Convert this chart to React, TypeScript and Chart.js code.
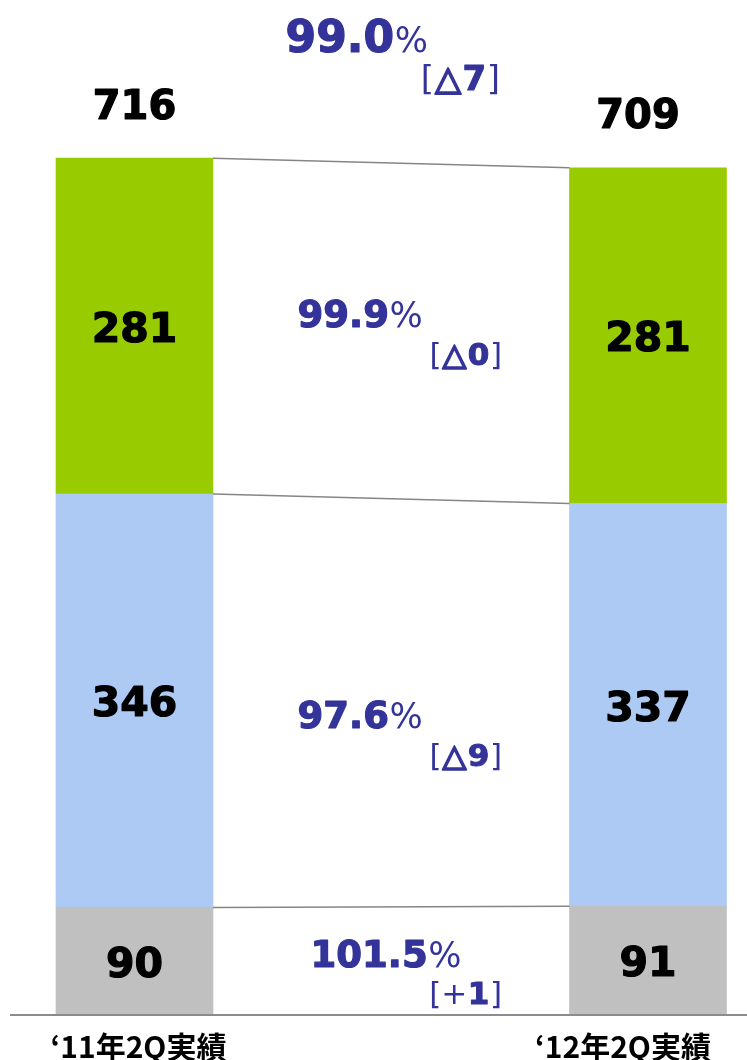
import { useEffect, useRef } from 'react';
import { Chart, registerables } from 'chart.js';

Chart.register(...registerables);

// ---- data ----
const categories = ['‘11年2Q実績', '‘12年2Q実績'];
const seriesGray = [90, 91];
const seriesBlue = [346, 337];
const seriesGreen = [281, 281];
const totals = [716, 709];
// annotations, bottom segment first, last one is the total
const ratioValues = ['101.5', '97.6', '99.9', '99.0'];
const diffSigns = ['+', '△', '△', '△'];
const diffValues = ['1', '9', '0', '7'];

// ---- layout / style ----
const COLORS = ['#C0C0C0', '#ADCAF4', '#99CC00'];
const PCT_COLOR = '#333399';
const FONT = '"DejaVu Sans", sans-serif';
const CJK = '"Noto Sans CJK JP", sans-serif';
const pctLeft = [310, 297, 297, 285];
const pctBase = [967, 728, 327, 52];
const pctSize = [37, 37, 37, 44];
const pctSignSize = [35, 35, 35, 35];
const brRight = [502, 502, 502, 500];
const brBase = [1004, 766, 365, 90];
const brSize = [31, 31, 31, 34];
const totalDx = [0, -10];
const catDx = [4, -25];

type Run = { text: string; font: string; stroke?: number };
function drawRuns(ctx: CanvasRenderingContext2D, runs: Run[], x: number, y: number, align: 'left' | 'right') {
  const widths = runs.map((r) => {
    ctx.font = r.font;
    return ctx.measureText(r.text).width + (r.stroke || 0);
  });
  const total = widths.reduce((a, b) => a + b, 0);
  let cx = align === 'left' ? x : x - total;
  ctx.textAlign = 'left';
  ctx.textBaseline = 'alphabetic';
  runs.forEach((r, i) => {
    ctx.font = r.font;
    const sx = cx + (r.stroke || 0) / 2;
    ctx.fillText(r.text, sx, y);
    if (r.stroke) {
      ctx.lineWidth = r.stroke;
      ctx.lineJoin = 'round';
      ctx.strokeText(r.text, sx, y);
    }
    cx += widths[i];
  });
}

function boldText(ctx: CanvasRenderingContext2D, t: string, x: number, y: number, w: number) {
  ctx.fillText(t, x, y);
  ctx.lineWidth = w;
  ctx.lineJoin = 'round';
  ctx.strokeText(t, x, y);
}

const decoPlugin = {
  id: 'deco',
  afterDatasetsDraw(chart: any) {
    const ctx: CanvasRenderingContext2D = chart.ctx;
    const area = chart.chartArea;
    ctx.save();
    // connector lines
    ctx.strokeStyle = '#858585';
    ctx.lineWidth = 1.5;
    chart.data.datasets.forEach((_: any, d: number) => {
      const meta = chart.getDatasetMeta(d);
      const a = meta.data[0].getProps(['x', 'y', 'width'], true);
      const b = meta.data[1].getProps(['x', 'y', 'width'], true);
      ctx.beginPath();
      ctx.moveTo(a.x + a.width / 2, a.y);
      ctx.lineTo(b.x - b.width / 2, b.y);
      ctx.stroke();
    });
    // axis line
    ctx.strokeStyle = '#8C8C8C';
    ctx.lineWidth = 2;
    ctx.beginPath();
    ctx.moveTo(area.left, area.bottom);
    ctx.lineTo(area.right, area.bottom);
    ctx.stroke();
    // values inside bars
    ctx.fillStyle = '#000';
    ctx.strokeStyle = '#000';
    ctx.textAlign = 'center';
    ctx.textBaseline = 'middle';
    ctx.font = `bold 41px ${FONT}`;
    chart.data.datasets.forEach((ds: any, d: number) => {
      const meta = chart.getDatasetMeta(d);
      meta.data.forEach((el: any, i: number) => {
        const p = el.getProps(['x', 'y', 'base'], true);
        boldText(ctx, String(ds.data[i].y), p.x, (p.y + p.base) / 2 + 5, 1.2);
      });
    });
    // totals
    ctx.font = `bold 40px ${FONT}`;
    const topMeta = chart.getDatasetMeta(chart.data.datasets.length - 1);
    topMeta.data.forEach((el: any, i: number) => {
      const p = el.getProps(['x', 'y'], true);
      boldText(ctx, String(totals[i]), p.x + totalDx[i], p.y - 50, 1.2);
    });
    // category labels
    ctx.font = `bold 30px ${CJK}`;
    const xs = chart.scales.x;
    categories.forEach((c, i) => {
      ctx.fillText(c, xs.getPixelForValue(i) + catDx[i], 1047);
    });
    // ratio annotations
    ctx.fillStyle = PCT_COLOR;
    ctx.strokeStyle = PCT_COLOR;
    ratioValues.forEach((v, i) => {
      drawRuns(
        ctx,
        [
          { text: v, font: `bold ${pctSize[i]}px ${FONT}`, stroke: 1.2 },
          { text: '%', font: `${pctSignSize[i]}px ${FONT}` },
        ],
        pctLeft[i],
        pctBase[i],
        'left'
      );
      const plus = diffSigns[i] === '+';
      drawRuns(
        ctx,
        [
          { text: '[', font: `${brSize[i]}px ${FONT}` },
          { text: diffSigns[i], font: `${plus ? '' : 'bold '}${brSize[i]}px ${FONT}`, stroke: plus ? 0 : 1.8 },
          { text: diffValues[i], font: `bold ${brSize[i]}px ${FONT}`, stroke: 1 },
          { text: ']', font: `${brSize[i]}px ${FONT}` },
        ],
        brRight[i],
        brBase[i],
        'right'
      );
    });
    ctx.restore();
  },
};

export default function App() {
  const ref = useRef<HTMLCanvasElement | null>(null);
  useEffect(() => {
    document.body.style.margin = '0';
    const toPts = (arr: number[]) => arr.map((y, i) => ({ x: i, y }));
    const chart = new Chart(ref.current as HTMLCanvasElement, {
      type: 'bar',
      data: {
        datasets: [
          { data: toPts(seriesGray), backgroundColor: COLORS[0] },
          { data: toPts(seriesBlue), backgroundColor: COLORS[1] },
          { data: toPts(seriesGreen), backgroundColor: COLORS[2] },
        ] as any,
      },
      options: {
        animation: false,
        responsive: false,
        barThickness: 157,
        layout: { padding: { top: 59, bottom: 45, left: 10, right: 0 } },
        plugins: { legend: { display: false }, tooltip: { enabled: false } },
        scales: {
          x: { type: 'linear', stacked: true, display: false, offset: false, min: -0.24245, max: 1.1928 },
          y: { stacked: true, display: false, min: 0, max: 800 },
        },
      } as any,
      plugins: [decoPlugin],
    });
    return () => chart.destroy();
  }, []);
  return <canvas ref={ref} width={747} height={1060} style={{ display: 'block' }} />;
}
